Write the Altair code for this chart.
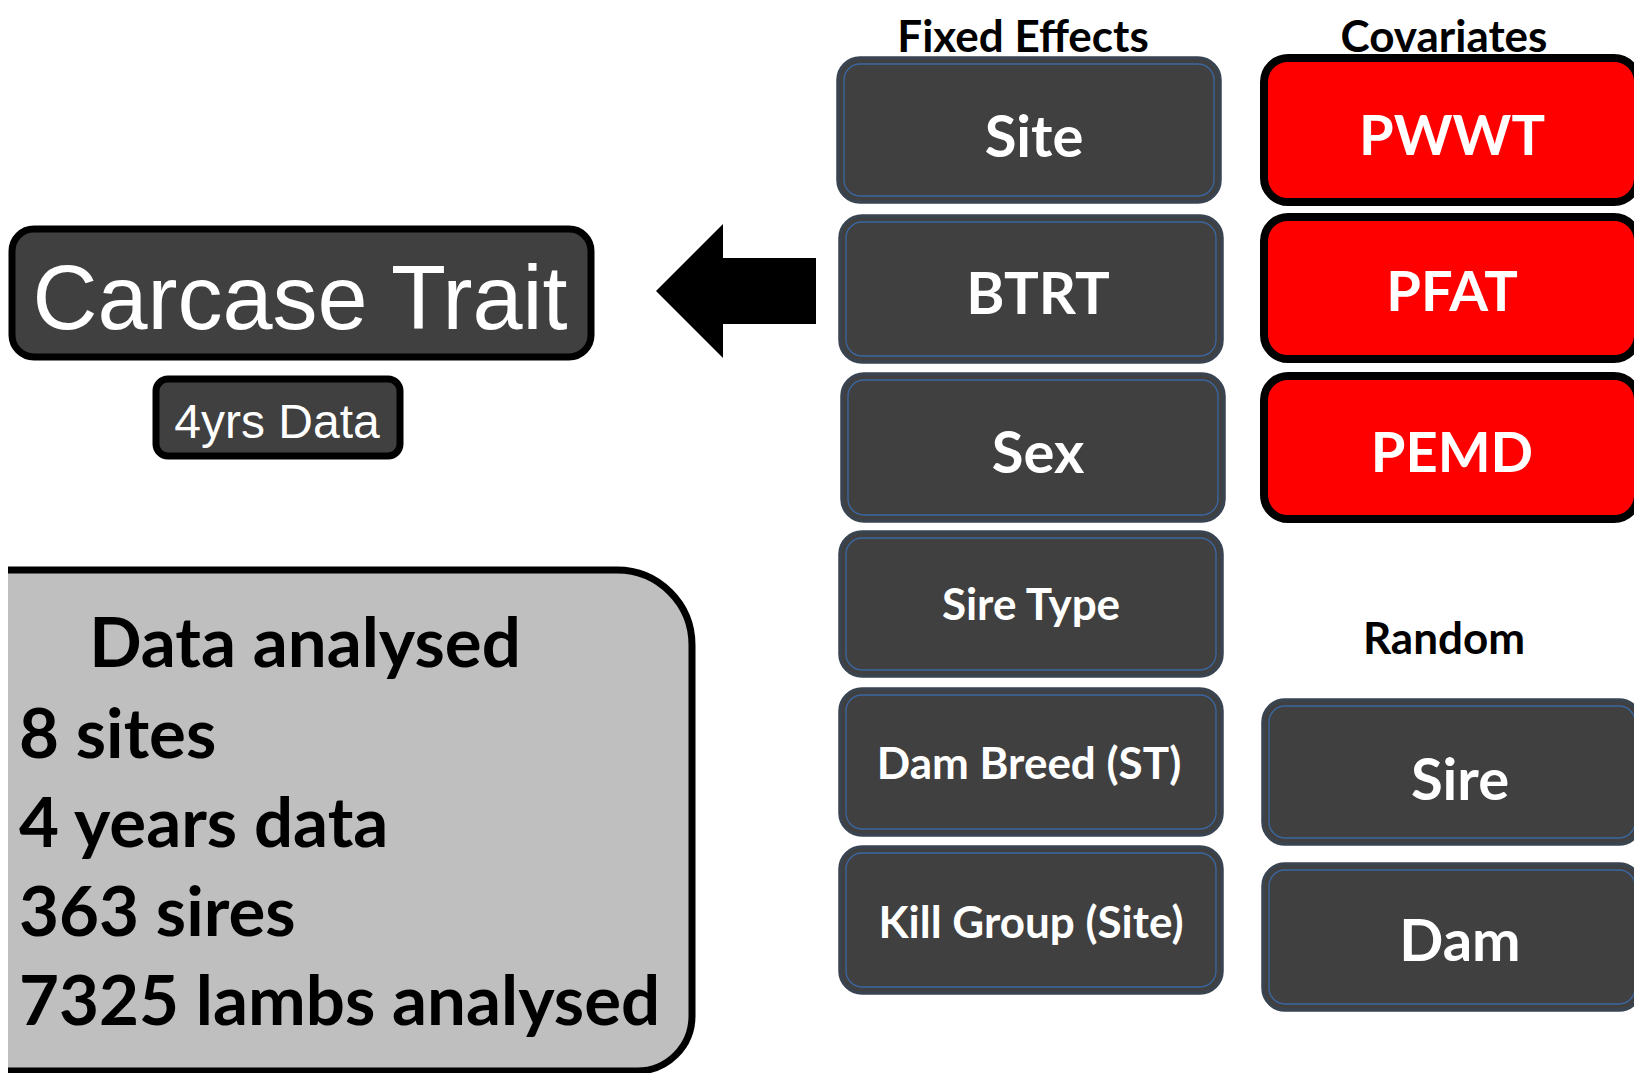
import altair as alt
import pandas as pd

# ------------------------------------------------------------------
# Text content
# ------------------------------------------------------------------
header_labels = ["Fixed Effects", "Covariates", "Random"]
fixed_labels = ["Site", "BTRT", "Sex", "Sire Type", "Dam Breed (ST)", "Kill Group (Site)"]
cov_labels = ["PWWT", "PFAT", "PEMD"]
rand_labels = ["Sire", "Dam"]
trait_label = "Carcase Trait"
trait_sub_label = "4yrs Data"
summary_title = "Data analysed"
summary_lines = ["8 sites", "4 years data", "363 sires", "7325 lambs analysed"]

# ------------------------------------------------------------------
# Layout (reference pixel frame, 1642 x 1081, y downwards)
# ------------------------------------------------------------------
W, H = 1626, 1065
X0, Y0 = 8, 8

header_x = [1023, 1444, 1444]
header_y = [52, 52, 654]

fixed_x = [838, 840, 842, 840, 840, 840]
fixed_x2 = [1220, 1222, 1224, 1222, 1222, 1222]
fixed_y = [58, 216, 374, 532, 689, 847]
fixed_y2 = [202, 362, 521, 676, 835, 993]
fixed_tx = [1034, 1038, 1038, 1031, 1029, 1031]
fixed_ty = [157, 314, 473, 620, 779, 938]
fixed_fs = [58, 58, 58, 44, 44, 44]

cov_x = [1264, 1264, 1264]
cov_x2 = [1638, 1638, 1638]
cov_y = [58, 217, 376]
cov_y2 = [202, 359, 519]
cov_tx = [1452, 1452, 1452]
cov_ty = [155, 311, 472]

rand_x = [1263, 1263]
rand_x2 = [1641, 1641]
rand_y = [700, 864]
rand_y2 = [844, 1010]
rand_tx = [1460, 1460]
rand_ty = [800, 961]

trait_box = [12, 591, 229, 357]      # x, x2, y, y2
trait_sub_box = [156, 400, 379, 456]
trait_text = [300, 329]
trait_sub_text = [277, 438]

summary_box = [-30, 692, 570, 1071]
summary_title_pos = [305, 667]
summary_x = 19
summary_y = [758, 847, 936, 1025]

# arrow: triangular head (tip -> base) and rectangular shaft
arrow_head_x = [656, 723]
arrow_head_top = [291, 224]
arrow_head_bot = [291, 358]
arrow_shaft = [722, 816, 258, 324]   # x, x2, y, y2

DARK = "#404040"
RED = "#FF0000"
GREY = "#BFBFBF"

# ------------------------------------------------------------------
xs = alt.Scale(domain=[X0, X0 + W], nice=False, zero=False)
ys = alt.Scale(domain=[Y0, Y0 + H], nice=False, zero=False, reverse=True)


def X(f):
    return alt.X(f, type="quantitative", scale=xs, axis=None)


def Y(f):
    return alt.Y(f, type="quantitative", scale=ys, axis=None)


def box_df(b):
    return pd.DataFrame({"x": [b[0]], "x2": [b[1]], "y": [b[2]], "y2": [b[3]]})


dark_boxes = pd.DataFrame({
    "x": fixed_x + rand_x, "x2": fixed_x2 + rand_x2,
    "y": fixed_y + rand_y, "y2": fixed_y2 + rand_y2,
})
cov_boxes = pd.DataFrame({"x": cov_x, "x2": cov_x2, "y": cov_y, "y2": cov_y2})
head_df = pd.DataFrame({"x": arrow_head_x, "yt": arrow_head_top, "yb": arrow_head_bot})

summary_layer = alt.Chart(box_df(summary_box)).mark_rect(
    fill=GREY, stroke="black", strokeWidth=7,
    cornerRadiusTopRight=75, cornerRadiusBottomRight=55, clip=True,
).encode(x=X("x"), x2="x2", y=Y("y"), y2="y2")

trait_layer = alt.Chart(box_df(trait_box)).mark_rect(
    fill=DARK, stroke="black", strokeWidth=7, cornerRadius=22, clip=True,
).encode(x=X("x"), x2="x2", y=Y("y"), y2="y2")

trait_sub_layer = alt.Chart(box_df(trait_sub_box)).mark_rect(
    fill=DARK, stroke="black", strokeWidth=7, cornerRadius=12, clip=True,
).encode(x=X("x"), x2="x2", y=Y("y"), y2="y2")

arrow_head = alt.Chart(head_df).mark_area(
    color="black", interpolate="linear", opacity=1,
).encode(x=X("x"), y=Y("yt"), y2="yb")

arrow_body = alt.Chart(box_df(arrow_shaft)).mark_rect(
    color="black",
).encode(x=X("x"), x2="x2", y=Y("y"), y2="y2")

dark_outer = alt.Chart(dark_boxes).mark_rect(
    fill=DARK, stroke="#3A4350", strokeWidth=3.5, cornerRadius=22, clip=True,
).encode(x=X("x"), x2="x2", y=Y("y"), y2="y2")

dark_inner = alt.Chart(dark_boxes).transform_calculate(
    xi="datum.x + 6", xi2="datum.x2 - 6", yi="datum.y + 6", yi2="datum.y2 - 6"
).mark_rect(
    fillOpacity=0, stroke="#3A67A3", strokeWidth=1.3, cornerRadius=16, clip=True,
).encode(x=X("xi:Q"), x2="xi2:Q", y=Y("yi:Q"), y2="yi2:Q")

cov_layer = alt.Chart(cov_boxes).mark_rect(
    fill=RED, stroke="black", strokeWidth=8, cornerRadius=24, clip=True,
).encode(x=X("x"), x2="x2", y=Y("y"), y2="y2")

# texts (Calibri-like bold, centred)
centre_rows = []
for t, x, y in zip(header_labels, header_x, header_y):
    centre_rows.append({"text": t, "x": x, "y": y, "size": 44, "color": "black"})
for t, x, y, s in zip(fixed_labels, fixed_tx, fixed_ty, fixed_fs):
    centre_rows.append({"text": t, "x": x, "y": y, "size": s, "color": "white"})
for t, x, y in zip(cov_labels, cov_tx, cov_ty):
    centre_rows.append({"text": t, "x": x, "y": y, "size": 56, "color": "white"})
for t, x, y in zip(rand_labels, rand_tx, rand_ty):
    centre_rows.append({"text": t, "x": x, "y": y, "size": 58, "color": "white"})
centre_rows.append({"text": summary_title, "x": summary_title_pos[0],
                    "y": summary_title_pos[1], "size": 69, "color": "black"})
centre_df = pd.DataFrame(centre_rows)

left_df = pd.DataFrame({"text": summary_lines, "x": [summary_x] * len(summary_lines),
                        "y": summary_y})

arial_df = pd.DataFrame({
    "text": [trait_label, trait_sub_label],
    "x": [trait_text[0], trait_sub_text[0]],
    "y": [trait_text[1], trait_sub_text[1]],
    "size": [90, 48],
})

centre_text = alt.Chart(centre_df).mark_text(
    font="Lato", fontWeight="bold", align="center", baseline="alphabetic",
).encode(x=X("x"), y=Y("y"), text="text:N",
         size=alt.Size("size:Q", scale=None, legend=None),
         color=alt.Color("color:N", scale=None))

left_text = alt.Chart(left_df).mark_text(
    font="Lato", fontWeight="bold", align="left", baseline="alphabetic",
    fontSize=69, color="black",
).encode(x=X("x"), y=Y("y"), text="text:N")

arial_text = alt.Chart(arial_df).mark_text(
    font="Liberation Sans", align="center", baseline="alphabetic",
    color="white",
).encode(x=X("x"), y=Y("y"), text="text:N",
         size=alt.Size("size:Q", scale=None, legend=None))

chart = alt.layer(
    summary_layer, trait_layer, trait_sub_layer, arrow_head, arrow_body,
    dark_outer, dark_inner, cov_layer, centre_text, left_text, arial_text,
).properties(
    width=W, height=H, padding=0,
    autosize=alt.AutoSizeParams(type="none"),
    background="white",
).configure_view(stroke=None)

chart.save("out.html", embed_options={"renderer": "svg", "actions": False})
